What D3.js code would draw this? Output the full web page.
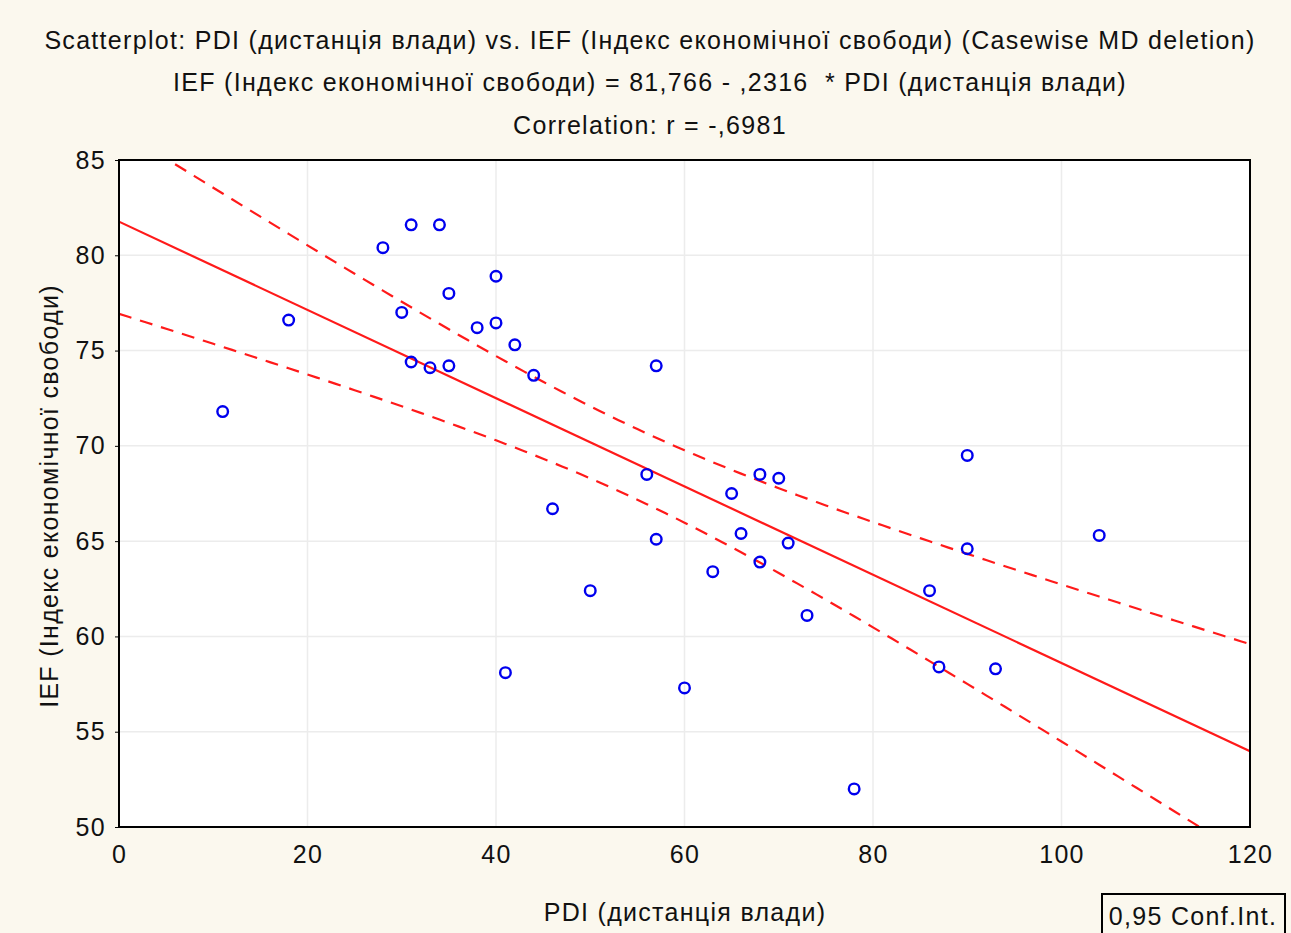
<!DOCTYPE html>
<html><head><meta charset="utf-8">
<script src="https://cdn.jsdelivr.net/npm/d3@7"></script>
<style>
html,body{margin:0;padding:0;background:#fbf8ee;}
svg{display:block;}
text{font-family:"Liberation Sans",Arial,sans-serif;fill:#111;}
</style></head><body>
<svg id="c" width="1291" height="933"></svg>
<script>
const pdi = [11,18,28,31,34,30,35,31,33,35,38,40,40,42,44,46,41,50,57,56,57,60,63,65,66,68,70,68,71,73,78,86,87,90,90,93,104];
const ief = [71.8,76.6,80.4,81.6,81.6,77.0,78.0,74.4,74.1,74.2,76.2,78.9,76.45,75.3,73.7,66.7,58.1,62.4,74.2,68.5,65.1,57.3,63.4,67.5,65.4,68.5,68.3,63.9,64.9,61.1,52.0,62.4,58.4,69.5,64.6,58.3,65.3];
const intercept = 81.766, slope = -0.2316;
const xTicks = [0,20,40,60,80,100,120];
const yTicks = [50,55,60,65,70,75,80,85];
const titles = [
  "Scatterplot: PDI (дистанція влади) vs. IEF (Індекс економічної свободи) (Casewise MD deletion)",
  "IEF (Індекс економічної свободи) = 81,766 - ,2316  * PDI (дистанція влади)",
  "Correlation: r = -,6981"
];
const xLabel = "PDI (дистанція влади)";
const yLabel = "IEF (Індекс економічної свободи)";
const legendText = "0,95 Conf.Int.";

const FS = "25px", LS = "1.3px";
const svg = d3.select("#c");
const L=119, R=1250, T=160, B=827;
const x = d3.scaleLinear().domain([0,120]).range([L,R]);
const y = d3.scaleLinear().domain([50,85]).range([B,T]);
const styleText = sel => sel.style("font-size",FS).style("letter-spacing",LS).style("white-space","pre");

// titles
const tY=[49,91,134];
titles.forEach((t,i)=>svg.append("text").attr("x",650).attr("y",tY[i]).attr("text-anchor","middle").call(styleText).text(t));

svg.append("rect").attr("x",L).attr("y",T).attr("width",R-L).attr("height",B-T).attr("fill","#fff");
svg.append("clipPath").attr("id","cp").append("rect").attr("x",L).attr("y",T).attr("width",R-L).attr("height",B-T);

// grid
const g = svg.append("g");
g.selectAll(".gx").data(xTicks.slice(1,-1)).join("line").attr("x1",d=>x(d)).attr("x2",d=>x(d)).attr("y1",T).attr("y2",B).attr("stroke","#ececec").attr("stroke-width",1.5);
g.selectAll(".gy").data(yTicks.slice(1,-1)).join("line").attr("x1",L).attr("x2",R).attr("y1",d=>y(d)).attr("y2",d=>y(d)).attr("stroke","#ececec").attr("stroke-width",1.5);

// confidence band computed from data
const n = pdi.length;
const xbar = d3.mean(pdi);
const Sxx = d3.sum(pdi,v=>(v-xbar)**2);
const sse = d3.sum(pdi.map((v,i)=>(ief[i]-(intercept+slope*v))**2));
const s = Math.sqrt(sse/(n-2));
const tcrit = 2.03;
const xs = d3.range(0,120.01,1);
const band = sign => xs.map(v=>[v, intercept+slope*v + sign*tcrit*s*Math.sqrt(1/n+(v-xbar)**2/Sxx)]);
const line = d3.line().x(d=>x(d[0])).y(d=>y(d[1]));
const pg = svg.append("g").attr("clip-path","url(#cp)");
[1,-1].forEach(sg=>pg.append("path").attr("d",line(band(sg))).attr("fill","none").attr("stroke","#ff1a1a").attr("stroke-width",2.2).attr("stroke-dasharray","13,9"));
pg.append("path").attr("d",line([[0,intercept],[120,intercept+slope*120]])).attr("fill","none").attr("stroke","#ff1a1a").attr("stroke-width",2.2);

// points
svg.append("g").selectAll("circle").data(pdi.map((v,i)=>[v,ief[i]])).join("circle")
  .attr("cx",d=>x(d[0])).attr("cy",d=>y(d[1])).attr("r",5.3).attr("fill","none").attr("stroke","#0000ee").attr("stroke-width",2.4);

// frame
svg.append("rect").attr("x",L).attr("y",T).attr("width",R-L).attr("height",B-T).attr("fill","none").attr("stroke","#000").attr("stroke-width",2);

// axes
const xa = svg.append("g").attr("transform",`translate(0,${B})`).call(d3.axisBottom(x).tickValues(xTicks).tickSize(0).tickPadding(18));
const ya = svg.append("g").attr("transform",`translate(${L},0)`).call(d3.axisLeft(y).tickValues(yTicks).tickSize(4).tickPadding(9));
[xa,ya].forEach(a=>{a.select(".domain").remove();a.selectAll("text").call(styleText).attr("fill","#111").style("font-family","'Liberation Sans',Arial,sans-serif");a.selectAll("line").attr("stroke","#000");});

svg.append("text").attr("x",685).attr("y",921).attr("text-anchor","middle").call(styleText).text(xLabel);
svg.append("text").attr("transform","translate(58,496) rotate(-90)").attr("text-anchor","middle").call(styleText).text(yLabel);

// legend
svg.append("rect").attr("x",1102).attr("y",894).attr("width",183).attr("height",45).attr("fill","none").attr("stroke","#000").attr("stroke-width",2);
svg.append("text").attr("x",1193).attr("y",925).attr("text-anchor","middle").call(styleText).text(legendText);
</script></body></html>
